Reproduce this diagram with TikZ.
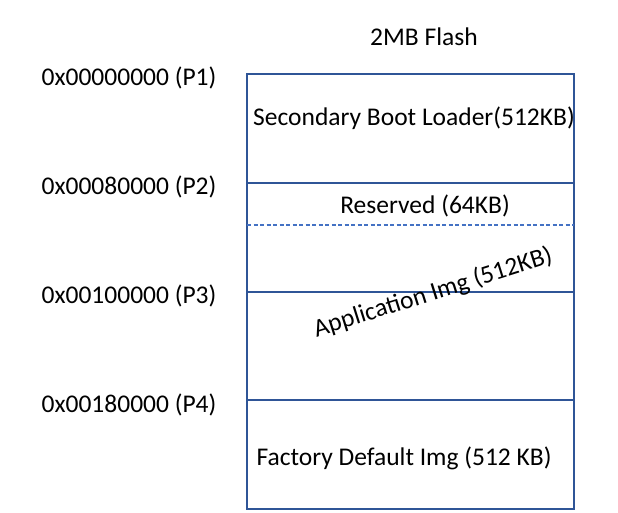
\documentclass[tikz,border=0pt]{standalone}
\usepackage{fontspec}
\setmainfont{Carlito}
\definecolor{boxblue}{HTML}{2F5597}
\definecolor{dashblue}{HTML}{4472C4}
\begin{document}
\begin{tikzpicture}[x=1pt,y=-1pt,
  lbl/.style={font=\fontsize{25.5}{30}\selectfont, text=black, inner sep=0pt},
  part/.style={draw=boxblue, line width=1.3pt},
  dashsep/.style={draw=dashblue, line width=1.1pt, dash pattern=on 4pt off 2.5pt}]
\useasboundingbox (0,0) rectangle (618,513);
\coordinate (tl) at (247,74);
\coordinate (br) at (574,509);
\coordinate (l2) at (247,183); \coordinate (r2) at (574,183);
\coordinate (l3) at (247,292); \coordinate (r3) at (574,292);
\coordinate (l4) at (247,400); \coordinate (r4) at (574,400);
\coordinate (ld) at (247,225); \coordinate (rd) at (574,225);
\draw[part] (tl) rectangle (br);
\draw[part] (l2) -- (r2);
\draw[part] (l3) -- (r3);
\draw[part] (l4) -- (r4);
\draw[dashsep] (ld) -- (rd);
\node[lbl] (title) at (424,37) {2MB Flash};
\node[lbl] (p1) at (129,78) {0x00000000 (P1)};
\node[lbl] (p2) at (129,187) {0x00080000 (P2)};
\node[lbl] (p3) at (129,296) {0x00100000 (P3)};
\node[lbl] (p4) at (129,405) {0x00180000 (P4)};
\node[lbl] (sbl) at (414,118) {Secondary Boot Loader(512KB)};
\node[lbl] (res) at (425,206) {Reserved (64KB)};
\node[lbl, rotate=17.5] (app) at (433,293) {Application Img (512KB)};
\node[lbl] (fdi) at (404,458) {Factory Default Img (512 KB)};
\end{tikzpicture}
\end{document}
